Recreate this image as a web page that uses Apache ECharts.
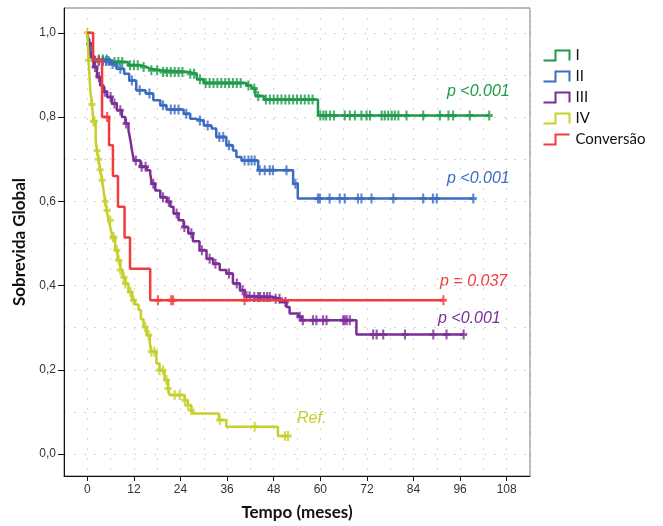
<!DOCTYPE html>
<html>
<head>
<meta charset="utf-8">
<script src="https://cdn.jsdelivr.net/npm/echarts@6/dist/echarts.min.js"></script>
<style>
  html, body { margin: 0; padding: 0; background: #fff; }
  #chart { width: 663px; height: 526px; }
</style>
</head>
<body>
<div id="chart"></div>
<script>
// tick labels
const xTicks = [0, 12, 24, 36, 48, 60, 72, 84, 96, 108];
const yTicks = [0, 0.2, 0.4, 0.6, 0.8, 1.0];
const yGrid = [0, 0.1, 0.2, 0.3, 0.4, 0.5, 0.6, 0.7, 0.8, 0.9, 1.0];

const groups = ['I', 'II', 'III', 'IV', 'Conversão'];
const colors = ['#1f9a4a', '#3b6cc2', '#7a2e96', '#c6cf2b', '#f03c3c'];

// Estadio I
const timeI = [0, 0.4, 1.2, 1.6, 6, 10.5, 13.7, 15.2, 16.2, 19, 26, 28.2, 30, 41, 42.3, 43.3, 45.5, 59.4];
const survI = [1, 0.975, 0.95, 0.937, 0.931, 0.923, 0.919, 0.915, 0.911, 0.907, 0.903, 0.89, 0.881, 0.875, 0.868, 0.85, 0.842, 0.804];
const censI = [3, 4, 5, 7, 8, 9, 11, 12, 13, 14.5, 16.5, 18, 19.5, 20.5, 21.5, 22.5, 23.5, 24.5, 26.5, 27.5, 29, 30.5,
  31.5, 32.5, 33.5, 34.5, 35.5, 36.5, 37.5, 38.5, 39.5, 41.5, 43, 44, 46, 47, 48, 49, 50, 51, 52, 53, 54, 55, 56, 57, 58,
  60, 60.8, 61.5, 62.5, 63.5, 66.3, 67.6, 68.9, 70.6, 71.9, 72.8, 75.8, 76.6, 77.5, 78.4, 79.2, 80.1, 82.2, 86.5, 90.8,
  93, 94.2, 98.5, 103.5];

// Estadio II
const timeII = [0, 0.5, 1.2, 1.6, 5.8, 7.5, 9.5, 10.8, 12.6, 15, 17, 18.8, 20.4, 24.8, 26.5, 27.7, 30, 32, 33.2, 35.8,
  37.5, 38.4, 39.7, 44, 53, 54.2];
const survII = [1, 0.97, 0.939, 0.933, 0.926, 0.915, 0.903, 0.887, 0.864, 0.856, 0.84, 0.828, 0.818, 0.808, 0.796, 0.792,
  0.78, 0.773, 0.753, 0.733, 0.721, 0.705, 0.697, 0.674, 0.642, 0.607];
const censII = [2, 3, 4, 4.8, 5.5, 6.5, 8.5, 11.5, 13.5, 16, 19.5, 21.5, 22.5, 23.5, 25.5, 29, 31, 34, 35, 36.5, 40.5,
  41.5, 42.3, 43.1, 44.4, 45.7, 47, 47.8, 51.3, 53.6, 59.4, 59.9, 62.4, 65, 66.3, 69.7, 70.6, 73.2, 78.8, 86.5, 89, 90, 99.4];

// Estadio III
const timeIII = [0, 0.35, 0.77, 1.6, 2.5, 3.3, 4.2, 5.1, 6.3, 7.6, 8.9, 9.8, 10.6, 11.1, 11.5, 12, 13.7, 15.3, 16.2, 16.6,
  17.5, 18.8, 20.5, 21.4, 22.2, 23.5, 24.8, 26, 27.2, 28.9, 30.7, 32.4, 34.1, 35.8, 37.5, 39.3, 40.5, 42.3, 47.8, 49.6,
  51.3, 52.1, 54.3, 55.2, 69.3];
const survIII = [1, 0.974, 0.943, 0.919, 0.895, 0.875, 0.86, 0.848, 0.832, 0.816, 0.8, 0.785, 0.769, 0.745, 0.721, 0.697,
  0.682, 0.674, 0.666, 0.642, 0.626, 0.61, 0.599, 0.587, 0.571, 0.555, 0.539, 0.524, 0.505, 0.484, 0.464, 0.452, 0.437,
  0.429, 0.405, 0.389, 0.375, 0.373, 0.369, 0.361, 0.349, 0.334, 0.326, 0.318, 0.284];
const censIII = [0.6, 1.2, 2, 3, 4.5, 6, 7, 8.5, 10, 12.5, 14, 15, 17, 19.5, 21, 23, 25, 26.8, 29.5, 31.5, 33, 36.5, 38.5,
  40, 41, 41.8, 43, 44, 44.5, 45.5, 46.3, 47, 48.5, 49.5, 51, 54.7, 55.5, 58.1, 59, 60.7, 61.6, 65.9, 66.3, 66.8, 67.6,
  73.6, 74.5, 76.2, 81.8, 89.1, 92.5, 96.9];

// Estadio IV (referencia)
const timeIV = [0, 0.33, 0.77, 1.2, 1.6, 2.15, 2.5, 2.9, 3.3, 3.8, 4.2, 4.6, 5, 5.5, 6, 6.5, 7.2, 7.8, 8.5, 9.1, 9.8,
  10.6, 11.5, 12.3, 13.2, 13.8, 14.5, 15.3, 16.1, 16.5, 17.8, 18.6, 19.9, 20.8, 21.2, 25.1, 25.9, 26.8, 27.2, 33.9, 35.8, 49.1];
const survIV = [1, 0.935, 0.864, 0.83, 0.79, 0.745, 0.72, 0.7, 0.675, 0.65, 0.625, 0.6, 0.578, 0.555, 0.535, 0.515, 0.484,
  0.46, 0.437, 0.42, 0.405, 0.385, 0.365, 0.355, 0.342, 0.32, 0.302, 0.283, 0.263, 0.243, 0.215, 0.199, 0.176, 0.156, 0.14,
  0.128, 0.116, 0.104, 0.0965, 0.081, 0.065, 0.043];
const censIV = [0, 0.35, 1.2, 1.6, 1.8, 2.5, 2.9, 3.3, 3.8, 4.6, 5.1, 5.9, 6.6, 6.8, 7.6, 8.1, 8.5, 9.4, 9.8, 11.1, 11.9,
  14.9, 15.8, 16.5, 17.3, 18.6, 19.5, 20.4, 20.8, 22.5, 23.8, 25.1, 25.9, 26.8, 34.1, 43.1, 50.9, 51.7];

// Conversao
const timeConv = [0, 1.5, 3.8, 5.6, 6.6, 7.9, 9.6, 11, 16.2];
const survConv = [1, 0.935, 0.8, 0.733, 0.66, 0.587, 0.514, 0.44, 0.365];
const censConv = [2.9, 5.1, 18.2, 21.6, 22.1, 40.5, 91.7];

const pLabels = ['p <0.001', 'p <0.001', 'p <0.001', 'Ref.', 'p = 0.037'];

const curves = [
  [timeI, survI, censI],
  [timeII, survII, censII],
  [timeIII, survIII, censIII],
  [timeIV, survIV, censIV],
  [timeConv, survConv, censConv]
];

function survAt(times, surv, t) {
  let s = surv[0];
  for (let i = 0; i < times.length; i++) {
    if (times[i] <= t) s = surv[i];
  }
  return s;
}

const plus = 'path://M3.5,0H6.5V3.5H10V6.5H6.5V10H3.5V6.5H0V3.5H3.5Z';
const series = [];
curves.forEach(([times, surv, cens], i) => {
  const pts = times.map((t, k) => [t, surv[k]]);
  const last = Math.max(...cens);
  pts.push([last, survAt(times, surv, last)]);
  series.push({
    name: groups[i],
    type: 'line',
    step: 'end',
    data: pts,
    showSymbol: false,
    lineStyle: { color: colors[i], width: 2.5 },
    itemStyle: { color: colors[i] },
    z: 3 + i
  });
  series.push({
    name: groups[i],
    type: 'scatter',
    data: cens.map(t => [t, survAt(times, surv, t)]),
    symbol: plus,
    symbolSize: [7, 10],
    itemStyle: { color: colors[i] },
    z: 3 + i
  });
});

const stepIcon = 'path://M0,10L12,10L12,0L26,0L26,10';
const stepIconConv = 'path://M0,10L12,10L12,0L26,0';

const chart = echarts.init(document.getElementById('chart'), null, { renderer: 'canvas' });
chart.setOption({
  animation: false,
  backgroundColor: '#fff',
  grid: {
    left: 64, top: 8, right: 133, bottom: 50,
    show: true, borderColor: '#777', borderWidth: 1
  },
  legend: {
    orient: 'vertical',
    left: 536,
    top: 43,
    itemWidth: 28,
    itemHeight: 10,
    itemGap: 6,
    textStyle: { fontFamily: 'Lato', fontSize: 15, color: '#111' },
    data: groups.map((g, i) => ({
      name: g,
      icon: i === 4 ? stepIconConv : stepIcon,
      itemStyle: { color: 'none', borderColor: colors[i], borderWidth: 2 }
    }))
  },
  xAxis: [{
    type: 'value',
    min: -6, max: 114,
    name: 'Tempo (meses)',
    nameLocation: 'middle',
    nameGap: 28,
    nameTextStyle: { fontFamily: 'Lato', fontWeight: 'bold', fontSize: 17, color: '#111' },
    axisLine: { show: true, onZero: false, lineStyle: { color: '#111', width: 1 } },
    axisTick: { show: true, length: 5, customValues: xTicks, lineStyle: { color: '#111' } },
    axisLabel: {
      customValues: xTicks, margin: 8,
      fontFamily: 'Liberation Sans', fontSize: 12, color: '#333'
    },
    splitLine: { show: false }
  }, {
    type: 'value',
    min: -6, max: 114, interval: 6,
    axisLine: { show: false, onZero: false },
    axisTick: { show: false },
    axisLabel: { show: false },
    splitLine: { show: true, lineStyle: { color: '#d6d6d6', type: [2, 8], width: 1 } }
  }],
  yAxis: [{
    type: 'value',
    min: -0.052, max: 1.059,
    name: 'Sobrevida Global',
    nameLocation: 'middle',
    nameGap: 34,
    nameTextStyle: { fontFamily: 'Lato', fontWeight: 'bold', fontSize: 17, color: '#111' },
    axisLine: { show: true, onZero: false, lineStyle: { color: '#111', width: 1 } },
    axisTick: { show: true, length: 6, customValues: yTicks, lineStyle: { color: '#111' } },
    axisLabel: {
      customValues: yTicks, margin: 8,
      formatter: v => v.toFixed(1).replace('.', ','),
      fontFamily: 'Liberation Sans', fontSize: 12, color: '#333'
    },
    splitLine: { show: false }
  }, {
    type: 'value',
    min: -0.052, max: 1.059,
    axisLine: { show: false, onZero: false },
    axisTick: { show: false, customValues: yGrid },
    axisLabel: { show: false, customValues: yGrid },
    splitLine: { show: true, lineStyle: { color: '#d6d6d6', type: [2, 8], width: 1 } }
  }],
  graphic: [
    { type: 'text', left: 447, top: 84, style: { text: pLabels[0], fill: colors[0], font: 'italic 16px "Liberation Sans"' } },
    { type: 'text', left: 447, top: 171, style: { text: pLabels[1], fill: colors[1], font: 'italic 16px "Liberation Sans"' } },
    { type: 'text', left: 440, top: 274, style: { text: pLabels[4], fill: colors[4], font: 'italic 16px "Liberation Sans"' } },
    { type: 'text', left: 438, top: 311, style: { text: pLabels[2], fill: colors[2], font: 'italic 16px "Liberation Sans"' } },
    { type: 'text', left: 297, top: 411, style: { text: pLabels[3], fill: colors[3], font: 'italic 16px "Liberation Sans"' } }
  ],
  series: series
});
</script>
</body>
</html>
